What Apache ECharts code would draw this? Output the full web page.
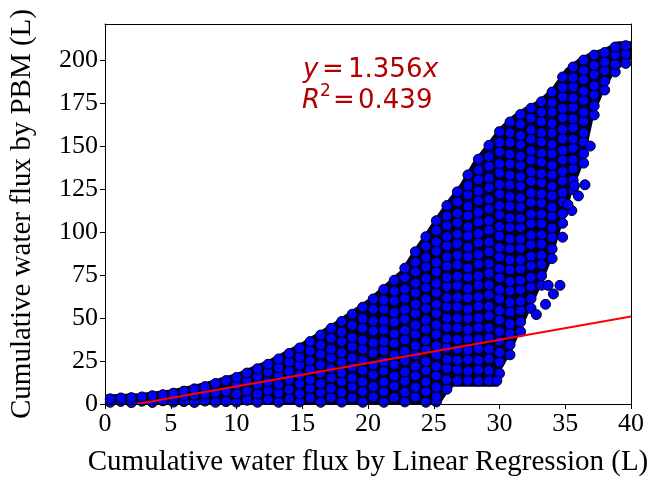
<!DOCTYPE html>
<html>
<head>
<meta charset="utf-8">
<script src="https://cdn.jsdelivr.net/npm/echarts@6/dist/echarts.min.js"></script>
<style>
html,body{margin:0;padding:0;background:#fff;}
#chart{width:651px;height:482px;}
</style>
</head>
<body>
<div id="chart"></div>
<script>
// ---- tick labels ----
const xTicks = [0, 5, 10, 15, 20, 25, 30, 35, 40];
const yTicks = [0, 25, 50, 75, 100, 125, 150, 175, 200];

// ---- scatter points, read column by column (x of column, y values in it) ----
const colX = [0.4, 1.2, 2.0, 2.8, 3.6, 4.4, 5.2, 6.0, 6.8, 7.6, 8.4, 9.2, 10.0, 10.8, 11.6, 12.4,
  13.2, 14.0, 14.8, 15.6, 16.4, 17.2, 18.0, 18.8, 19.6, 20.4, 21.2, 22.0, 22.8, 23.6, 24.4, 25.2,
  26.0, 26.8, 27.6, 28.4, 29.2, 30.0, 30.8, 31.6, 32.4, 33.2, 34.0, 34.8, 35.6, 36.4, 37.2, 38.0,
  38.8, 39.6];
const colY = [
  [1, 3],
  [1.5, 3.5],
  [0.8, 3.7],
  [1.6, 4.1],
  [0.9, 4.8],
  [1.8, 5.4],
  [1.1, 3.9, 6.3],
  [1.4, 4.6, 7.5],
  [0.9, 5.2, 8.8],
  [1.7, 5.9, 10.1],
  [1.0, 6.6, 11.9],
  [1.4, 7.3, 13.6],
  [1.1, 6.0, 11.2, 15.4],
  [2.2, 7.4, 13.1, 18.0],
  [1.0, 5.8, 11.4, 16.1, 20.5],
  [2.6, 7.9, 13.0, 18.6, 23.1],
  [1.0, 6.5, 11.3, 16.8, 21.2, 26.2],
  [3.1, 8.4, 14.2, 19.0, 24.6, 29.4],
  [1.2, 6.0, 11.9, 16.8, 22.5, 27.3, 32.6],
  [3.5, 9.2, 14.0, 20.1, 25.0, 30.9, 36.3],
  [1.0, 6.7, 11.8, 17.9, 22.8, 29.0, 34.3, 40.1],
  [3.8, 9.1, 15.3, 20.6, 26.8, 31.9, 38.2, 44.0],
  [1.1, 6.6, 12.9, 18.1, 24.5, 29.8, 36.3, 41.7, 48.0],
  [3.6, 9.9, 15.2, 21.6, 26.9, 33.3, 38.6, 45.8, 52.2],
  [1.0, 7.3, 12.9, 19.5, 25.1, 31.8, 37.2, 44.0, 49.7, 56.3],
  [4.2, 10.1, 16.9, 22.8, 29.6, 35.5, 42.4, 48.2, 55.1, 61.1],
  [1.0, 7.2, 12.8, 19.2, 24.6, 31.1, 36.5, 43.0, 48.5, 55.1, 60.4, 66.6],
  [3.8, 10.4, 16.1, 22.9, 28.5, 35.3, 40.8, 47.6, 53.2, 60.0, 65.6, 72.0],
  [1.2, 6.8, 13.3, 18.7, 25.3, 30.7, 37.3, 42.8, 49.4, 54.9, 61.4, 66.8, 73.4, 79.0],
  [4.1, 9.7, 16.4, 21.8, 28.5, 33.9, 40.6, 46.0, 52.7, 58.1, 64.8, 70.2, 76.8, 82.3, 88.5],
  [1.0, 7.3, 12.8, 19.4, 24.8, 31.5, 36.9, 43.5, 48.9, 55.6, 61.0, 67.6, 73.0, 79.7, 85.1, 91.7, 97.3],
  [1.2, 4.3, 9.8, 16.4, 21.8, 28.5, 33.9, 40.5, 46.0, 52.6, 58.0, 64.7, 70.1, 76.8, 82.2, 88.9, 94.3, 100.9, 106.6],
  [8.6, 14.1, 20.7, 26.0, 32.6, 38.0, 44.5, 49.9, 56.4, 61.8, 68.3, 73.6, 80.1, 85.5, 92.0, 97.4, 103.9, 109.3, 115.4],
  [13.5, 19.9, 25.4, 32.0, 37.5, 44.3, 49.8, 56.5, 62.1, 68.8, 74.3, 81.0, 86.5, 93.2, 98.7, 105.4, 110.9, 117.6, 123.4],
  [13.6, 19.2, 25.8, 31.2, 37.8, 43.2, 49.7, 55.1, 61.7, 67.1, 73.7, 79.1, 85.7, 91.1, 97.7, 103.1, 109.6, 115.0, 121.6, 127.0, 133.2],
  [13.4, 19.9, 25.5, 32.2, 37.8, 44.5, 50.1, 56.8, 62.3, 69.1, 74.6, 81.4, 86.9, 93.7, 99.2, 105.9, 111.5, 118.2, 123.8, 130.5, 136.0, 142.4],
  [13.5, 19.4, 26.3, 32.0, 38.7, 44.3, 51.2, 56.8, 63.6, 69.3, 76.1, 81.7, 88.5, 94.2, 101.0, 106.6, 113.4, 119.1, 125.9, 131.5, 138.3, 143.9, 150.4],
  [17.8, 24.4, 29.9, 36.6, 42.1, 48.8, 54.4, 61.1, 66.6, 73.3, 78.8, 85.5, 91.0, 97.7, 103.2, 109.9, 115.4, 122.1, 127.7, 134.4, 139.9, 146.6, 152.1, 158.4],
  [28.6, 34.4, 41.1, 46.7, 53.5, 59.0, 65.8, 71.3, 78.1, 83.7, 90.4, 96.0, 102.8, 108.3, 115.1, 120.6, 127.4, 133.0, 139.7, 145.3, 152.1, 157.6, 164.0],
  [42.1, 47.7, 54.3, 59.8, 66.4, 71.8, 78.5, 83.9, 90.5, 95.9, 102.6, 108.0, 114.6, 120.0, 126.7, 132.1, 138.7, 144.1, 150.8, 156.2, 162.8, 168.4],
  [55.6, 61.3, 68.1, 73.6, 80.4, 85.9, 92.7, 98.2, 105.0, 110.4, 117.2, 122.7, 129.5, 135.0, 141.8, 147.2, 154.0, 159.5, 166.3, 172.0],
  [69.1, 74.6, 81.2, 86.5, 93.1, 98.4, 104.9, 110.3, 116.8, 122.2, 128.7, 134.0, 140.6, 145.9, 152.5, 157.8, 164.3, 169.7, 175.8],
  [84.6, 90.2, 96.9, 102.4, 109.1, 114.5, 121.2, 126.7, 133.3, 138.8, 145.5, 150.9, 157.6, 163.1, 169.7, 175.2, 181.4],
  [105.1, 110.7, 117.5, 123.0, 129.8, 135.2, 142.0, 147.4, 154.2, 159.6, 166.4, 171.8, 178.6, 184.0, 190.2],
  [124.6, 130.2, 136.8, 142.1, 148.7, 154.0, 160.6, 165.9, 172.5, 177.9, 184.5, 189.8, 196.0],
  [140.1, 145.6, 152.3, 157.7, 164.4, 169.8, 176.5, 181.9, 188.6, 194.0, 200.0],
  [168.1, 173.4, 179.9, 185.1, 191.6, 196.9, 202.9],
  [182.6, 187.7, 193.8, 198.9, 204.4],
  [193.1, 197.6, 203.1, 207.6],
  [198.1, 203.5, 208.4]
];
// isolated points on the lower-right edge
const outX = [29.8, 32.8, 33.5, 33.7, 34.6, 34.1, 34.8, 35.5, 36.0, 36.5, 35.7, 35.2, 36.9];
const outY = [13.5, 52.0, 58.0, 69.0, 69.0, 64.0, 97.0, 112.5, 121.0, 127.5, 127.0, 116.0, 150.0];

// envelope of the dense point cloud (through its outermost markers)
const upperX = [0, 2.5, 5, 7.5, 10, 12.5, 15, 17.5, 20, 22.5, 23.5, 24.5, 25, 26, 27, 28, 29, 30, 31, 32, 33, 34, 35, 36, 37, 38, 39, 40];
const upperY = [5.5, 6.3, 8.5, 12.5, 18, 26, 36, 48, 61, 78, 90, 101, 107, 118, 128, 141, 151, 161, 168, 173, 177, 184, 195, 201, 205, 207, 211, 211];
const lowerX = [0, 25.5, 26, 26.5, 29.9, 30.0, 30.8, 31.6, 32.4, 33.2, 34.0, 34.8, 35.6, 36.4, 37.2, 38.0, 38.8, 39.6, 40];
const lowerY = [0, 0, 6, 10, 10, 17.8, 28.6, 42.1, 55.6, 69.1, 84.6, 105.1, 124.6, 140.1, 168.1, 182.6, 193.1, 198.1, 200];

// fitted line y = 1.356x (drawn over the range shown)
const fitX = [2.43, 40];
const fitY = [0, 50.9];

// ---- build data ----
const points = [];
colX.forEach((x, i) => colY[i].forEach(y => points.push([x, y])));
outX.forEach((x, i) => points.push([x, outY[i]]));
const fitData = fitX.map((x, i) => [x, fitY[i]]);

const chart = echarts.init(document.getElementById('chart'), null, {renderer: 'canvas'});
const serif = 'Liberation Serif';
const red = '#b00000';
const mathFont = 'DejaVu Sans';

function mtext(x, y, text, size, italic) {
  return {type: 'text', x: x, y: y, style: {text: text, fill: red, font: (italic ? 'italic ' : '') + size + 'px "' + mathFont + '"'}};
}

const option = {
  animation: false,
  grid: {left: 104, right: 20, top: 24, bottom: 78, containLabel: false},
  xAxis: [{
    type: 'value', min: 0, max: 40, interval: 5,
    name: 'Cumulative water flux by Linear Regression (L)',
    nameLocation: 'middle', nameGap: 44,
    nameTextStyle: {fontFamily: serif, fontSize: 29, color: '#000'},
    axisLine: {show: true, onZero: false, lineStyle: {color: '#000', width: 1}},
    axisTick: {show: true, length: 5, lineStyle: {color: '#000'}, customValues: xTicks},
    axisLabel: {fontFamily: serif, fontSize: 26, color: '#000', margin: 7, customValues: xTicks},
    splitLine: {show: false}, z: 10
  }, {
    type: 'value', min: 0, max: 40, position: 'top',
    axisLine: {show: true, onZero: false, lineStyle: {color: '#000', width: 1}},
    axisTick: {show: false}, axisLabel: {show: false}, splitLine: {show: false}, z: 10
  }],
  yAxis: [{
    type: 'value', min: 0, max: 221, interval: 25,
    name: 'Cumulative water flux by PBM (L)',
    nameLocation: 'middle', nameGap: 68,
    nameTextStyle: {fontFamily: serif, fontSize: 29, color: '#000'},
    axisLine: {show: true, onZero: false, lineStyle: {color: '#000', width: 1}},
    axisTick: {show: true, length: 5, lineStyle: {color: '#000'}, customValues: yTicks},
    axisLabel: {fontFamily: serif, fontSize: 26, color: '#000', margin: 7, customValues: yTicks},
    splitLine: {show: false}, z: 10
  }, {
    type: 'value', min: 0, max: 221, position: 'right',
    axisLine: {show: true, onZero: false, lineStyle: {color: '#000', width: 1}},
    axisTick: {show: false}, axisLabel: {show: false}, splitLine: {show: false}, z: 10
  }],
  series: [
    {
      type: 'custom', z: 1, silent: true,
      data: [[0, 0]],
      renderItem: function (params, api) {
        const pts = [];
        for (let i = 0; i < upperX.length; i++) pts.push(api.coord([upperX[i], upperY[i]]));
        for (let i = lowerX.length - 1; i >= 0; i--) pts.push(api.coord([lowerX[i], lowerY[i]]));
        return {type: 'polygon', shape: {points: pts}, style: {fill: '#000028', stroke: null}};
      }
    },
    {
      type: 'scatter', z: 2, data: points, symbol: 'circle', symbolSize: 10,
      itemStyle: {color: '#0000ff', borderColor: '#000', borderWidth: 1, opacity: 1},
      clip: true, silent: true
    },
    {
      type: 'line', z: 3, data: fitData, showSymbol: false, symbol: 'none',
      lineStyle: {color: '#ff0000', width: 2}, silent: true
    }
  ],
  graphic: [
    mtext(303, 57, 'y', 26, true),
    mtext(322, 57, '=', 26, false),
    mtext(348, 57, '1.356', 26, false),
    mtext(423, 57, 'x', 26, true),
    mtext(302, 88, 'R', 26, true),
    mtext(320, 83, '2', 17, false),
    mtext(333, 88, '=', 26, false),
    mtext(358, 88, '0.439', 26, false)
  ]
};
chart.setOption(option);
</script>
</body>
</html>
